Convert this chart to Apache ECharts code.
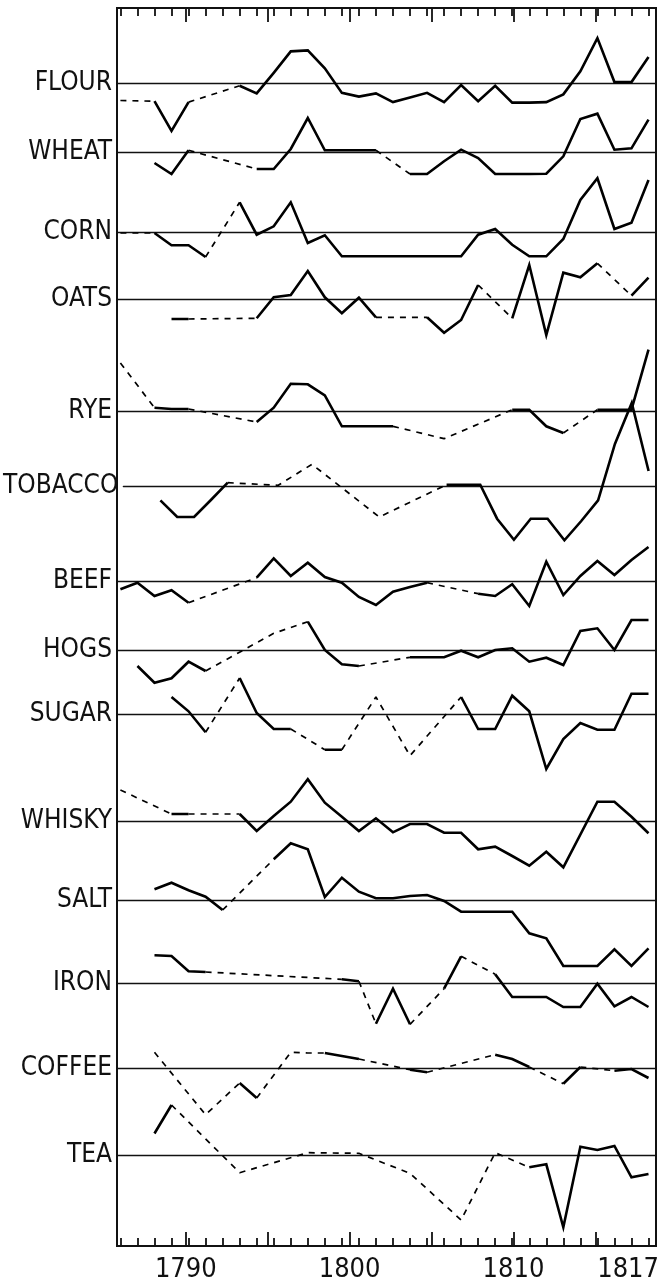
<!DOCTYPE html>
<html><head><meta charset="utf-8">
<script src="https://cdn.jsdelivr.net/npm/echarts@6/dist/echarts.min.js"></script>
<style>html,body{margin:0;padding:0;background:#fff}#c{width:662px;height:1288px}</style>
</head><body><div id="c"></div>
<script>
// ---------- DATA ----------
const tickYears = [1786,1787,1788,1789,1790,1791,1792,1793,1794,1795,1796,1797,1798,1799,1800,1801,1802,1803,1804,1805,1806,1807,1808,1809,1810,1811,1812,1813,1814,1815,1816,1817];
const majorTickYears = [1790,1795,1800,1805,1810,1815];
const labelYears = [1790,1800,1810,1817];
const commodities = ['FLOUR','WHEAT','CORN','OATS','RYE','TOBACCO','BEEF','HOGS','SUGAR','WHISKY','SALT','IRON','COFFEE','TEA'];

// deviation from each commodity's own base line; [year, value]
const flour = [[1786,-19],[1788,-19.7],[1789,-52],[1790,-20.7],[1793,-3],[1794,-11.3],[1795,11],[1796,34.3],[1797,35.3],[1798,16],[1799,-10.7],[1800,-14.7],[1801,-11.3],[1802,-20.7],[1803,-15.7],[1804,-10.7],[1805,-20.7],[1806,-2.3],[1807,-19.7],[1808,-3],[1809,-21.3],[1810,-21.3],[1811,-20.7],[1812,-12.3],[1813,12.7],[1814,48.7],[1815,1],[1816,1],[1817,28.3]];
const flourDashedTo = [1788,1793];
const wheat = [[1788,-11],[1789,-22],[1790,1.7],[1794,-17],[1795,-17],[1796,3],[1797,34],[1798,1.7],[1799,1.7],[1800,1.7],[1801,1.7],[1803,-22],[1804,-22],[1805,-9.3],[1806,2.3],[1807,-6],[1808,-22],[1809,-22],[1810,-22],[1811,-21.7],[1812,-4.3],[1813,33],[1814,38.3],[1815,2.3],[1816,3.7],[1817,32.3]];
const wheatDashedTo = [1794,1803];
const corn = [[1786,-1],[1788,-1],[1789,-13.3],[1790,-13.3],[1791,-25],[1793,29.7],[1794,-2.7],[1795,5.7],[1796,29.7],[1797,-11],[1798,-3.3],[1799,-24.3],[1800,-24.3],[1801,-24.3],[1802,-24.3],[1803,-24.3],[1804,-24.3],[1805,-24.3],[1806,-24.3],[1807,-2.7],[1808,3],[1809,-12.7],[1810,-24.3],[1811,-24.3],[1812,-7],[1813,32],[1814,53.7],[1815,3],[1816,9.3],[1817,52]];
const cornDashedTo = [1788,1793];
const oats = [[1789,-20],[1790,-20],[1794,-19.3],[1795,1.7],[1796,4],[1797,28],[1798,1.7],[1799,-14.3],[1800,1.3],[1801,-18.3],[1804,-18.3],[1805,-33.7],[1806,-21],[1807,14],[1809,-19.3],[1810,34],[1811,-36],[1812,26.3],[1813,21.7],[1814,35.7],[1816,3.3],[1817,21.3]];
const oatsDashedTo = [1794,1804,1809,1816];
const rye = [[1786,48],[1788,3.3],[1789,2],[1790,2],[1794,-11],[1795,3.3],[1796,27.3],[1797,26.7],[1798,15.7],[1799,-15.3],[1800,-15.3],[1801,-15.3],[1802,-15.3],[1805,-27.7],[1809,1.3],[1810,1.3],[1811,-15.3],[1812,-22],[1814,1.3],[1815,1.3],[1816,1.3],[1817,61.3]];
const ryeDashedTo = [1788,1794,1805,1809,1814];
const tobacco = [[1788,-14.3],[1789,-31],[1790,-31],[1791,-14],[1792,3.3],[1795,0.7],[1797,21.7],[1801,-31],[1805,1.3],[1806,1.3],[1807,1.3],[1808,-32.7],[1809,-53.7],[1810,-32.7],[1811,-32.7],[1812,-54.3],[1813,-35],[1814,-14.3],[1815,42],[1816,83],[1817,15]];
const tobaccoDashedTo = [1795,1797,1801,1805];
const beef = [[1786,-8.3],[1787,-1.7],[1788,-15],[1789,-9.3],[1790,-21.7],[1794,3.3],[1795,22.7],[1796,5],[1797,18.3],[1798,4],[1799,-1.7],[1800,-16],[1801,-24],[1802,-10.7],[1803,-6],[1804,-1.7],[1807,-12.7],[1808,-15],[1809,-3.3],[1810,-25],[1811,19.3],[1812,-14],[1813,5],[1814,20],[1815,6],[1816,21],[1817,34]];
const beefDashedTo = [1794,1807];
const hogs = [[1787,-16],[1788,-32.7],[1789,-28.3],[1790,-11.7],[1791,-21],[1795,16.7],[1797,28.3],[1798,0],[1799,-14.3],[1800,-16],[1803,-7.3],[1804,-7.3],[1805,-7.3],[1806,-0.7],[1807,-7.3],[1808,0],[1809,1.7],[1810,-11.7],[1811,-7.7],[1812,-15],[1813,19],[1814,21.7],[1815,0],[1816,30],[1817,30]];
const hogsDashedTo = [1795,1797,1803];
const sugar = [[1789,17],[1790,2.7],[1791,-18.3],[1793,36],[1794,1],[1795,-15],[1796,-15],[1798,-35.7],[1799,-35.7],[1801,17],[1803,-41.7],[1806,17],[1807,-15],[1808,-15],[1809,18.3],[1810,2.7],[1811,-55],[1812,-25],[1813,-9],[1814,-15.7],[1815,-15.7],[1816,20.3],[1817,20.3]];
const sugarDashedTo = [1793,1798,1801,1803,1806];
const whisky = [[1786,31],[1789,7],[1790,7],[1793,7],[1794,-10],[1795,5],[1796,19.3],[1797,41.7],[1798,18.3],[1799,4.3],[1800,-10],[1801,2.7],[1802,-11.3],[1803,-3],[1804,-3],[1805,-11.7],[1806,-11.7],[1807,-28.3],[1808,-25.7],[1809,-35],[1810,-44.7],[1811,-30.7],[1812,-46.3],[1814,19.3],[1815,19.3],[1816,4.3],[1817,-12.3]];
const whiskyDashedTo = [1789,1793];
const salt = [[1788,10.7],[1789,17.3],[1790,9.7],[1791,3.3],[1792,-10],[1795,40.7],[1796,56.7],[1797,50.7],[1798,3],[1799,22.3],[1800,8.3],[1801,1.7],[1802,1.7],[1803,4],[1804,5],[1805,-1],[1806,-11.7],[1807,-11.7],[1808,-11.7],[1809,-11.7],[1810,-33.3],[1811,-38.3],[1812,-66],[1813,-66],[1814,-66],[1815,-49.3],[1816,-66],[1817,-48.3]];
const saltDashedTo = [1795];
const iron = [[1788,27.7],[1789,27],[1790,11.7],[1791,11],[1799,3.7],[1800,1.7],[1801,-40.7],[1802,-5.7],[1803,-41.3],[1805,-5.7],[1806,26.7],[1808,8.7],[1809,-14],[1810,-14],[1811,-14],[1812,-24],[1813,-24],[1814,-0.7],[1815,-23.3],[1816,-14],[1817,-24]];
const ironDashedTo = [1799,1801,1805,1808];
const coffee = [[1788,15.7],[1791,-46.7],[1793,-15],[1794,-30],[1796,15.7],[1797,15],[1798,15],[1800,9],[1803,-1.7],[1804,-4.3],[1808,13.3],[1809,9],[1810,1],[1812,-15.7],[1813,1],[1815,-2.7],[1816,-1],[1817,-10]];
const coffeeDashedTo = [1791,1793,1796,1797,1798,1803,1808,1812,1815];
const tea = [[1788,21.5],[1789,50],[1793,-17.7],[1797,2.3],[1800,1.7],[1803,-18.3],[1806,-65],[1808,2.3],[1810,-12.3],[1811,-9.3],[1812,-72.3],[1813,8.3],[1814,5],[1815,9],[1816,-22.3],[1817,-19]];
const teaDashedTo = [1793,1797,1800,1803,1806,1808,1810];

const seriesData = [flour,wheat,corn,oats,rye,tobacco,beef,hogs,sugar,whisky,salt,iron,coffee,tea];
const dashedData = [flourDashedTo,wheatDashedTo,cornDashedTo,oatsDashedTo,ryeDashedTo,tobaccoDashedTo,beefDashedTo,hogsDashedTo,sugarDashedTo,whiskyDashedTo,saltDashedTo,ironDashedTo,coffeeDashedTo,teaDashedTo];

// ---------- LAYOUT ----------
const baseY = [76,152,232,299,411,486,581,650,714,821,900,983,1068,1155];
const PLOT = {left:117, right:6, top:8, bottom:42};
const X_MIN = 1785.8, X_MAX = 1817.44;
const R = 90;
const INK = '#111';
const NARROW = "'Liberation Sans Narrow','DejaVu Sans Condensed','Roboto Condensed','Arial Narrow',sans-serif";

const grids = [], xAxes = [], yAxes = [], series = [];

function split(points, dashedTo, kind) {
  const out = [];
  let last = -2;
  for (let i = 1; i < points.length; i++) {
    const k = dashedTo.includes(points[i][0]) ? 'd' : 's';
    if (k !== kind) continue;
    if (last !== i - 1) {
      if (out.length) out.push([points[i-1][0], null]);
      out.push(points[i-1]);
    }
    out.push(points[i]);
    last = i;
  }
  return out;
}

commodities.forEach((name, i) => {
  grids.push({left: PLOT.left, right: PLOT.right, top: baseY[i] - R, height: 2 * R});
  xAxes.push({type:'value', gridIndex:i, min:X_MIN, max:X_MAX, position:'bottom',
    axisLine:{show:true, onZero:true, lineStyle:{color:INK, width:1.3}},
    axisTick:{show:false}, axisLabel:{show:false}, splitLine:{show:false}});
  yAxes.push({type:'value', gridIndex:i, min:-R, max:R,
    axisLine:{show:false}, axisTick:{show:false}, splitLine:{show:false},
    axisLabel:{show:true, customValues:[0], formatter:() => name, margin:5,
      color:INK, fontSize:26, fontFamily:NARROW}});
  series.push({type:'line', xAxisIndex:i, yAxisIndex:i, data:split(seriesData[i], dashedData[i], 's'),
    symbol:'none', clip:false, connectNulls:false, silent:true,
    lineStyle:{color:'#000', width:2.6, join:'miter'}});
  series.push({type:'line', xAxisIndex:i, yAxisIndex:i, data:split(seriesData[i], dashedData[i], 'd'),
    symbol:'none', clip:false, connectNulls:false, silent:true,
    lineStyle:{color:'#000', width:1.7, type:[6,6]}});
});

// frame grid with minor ticks, and an overlay grid for major ticks + labels
const F = grids.length;
grids.push({left:PLOT.left, right:PLOT.right, top:PLOT.top, bottom:PLOT.bottom, show:true, borderColor:INK, borderWidth:2, backgroundColor:'transparent'});
grids.push({left:PLOT.left, right:PLOT.right, top:PLOT.top, bottom:PLOT.bottom});
function tickAxis(grid, pos, vals, len, labels) {
  return {type:'value', gridIndex:grid, position:pos, min:X_MIN, max:X_MAX,
    axisLine:{show:false, onZero:false},
    axisTick:{show:true, inside:true, length:len, customValues:vals, lineStyle:{color:INK, width:1.8}},
    axisLabel: labels ? {show:true, customValues:labels, margin:10, color:INK, fontSize:27, fontFamily:NARROW, formatter:v => String(v)} : {show:false},
    splitLine:{show:false}};
}
xAxes.push(tickAxis(F, 'top', tickYears, 8, null));
xAxes.push(tickAxis(F, 'bottom', tickYears, 8, null));
xAxes.push(tickAxis(F + 1, 'top', majorTickYears, 14, null));
xAxes.push(tickAxis(F + 1, 'bottom', majorTickYears, 14, labelYears));
yAxes.push({type:'value', gridIndex:F, show:false});
yAxes.push({type:'value', gridIndex:F + 1, show:false});

const chart = echarts.init(document.getElementById('c'), null, {renderer:'canvas'});
chart.setOption({animation:false, backgroundColor:'#fff', grid:grids, xAxis:xAxes, yAxis:yAxes, series:series});
</script>
</body></html>
